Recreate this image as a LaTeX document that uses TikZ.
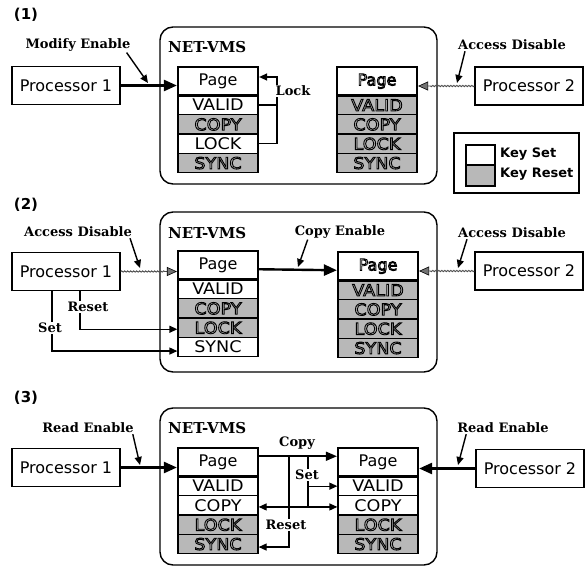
\documentclass[tikz,border=0pt]{standalone}
\usepackage{fontspec}
\setmainfont{DejaVu Sans}
\newfontfamily\lblfam{DejaVu Serif}
\newfontfamily\rowfam{DejaVu Sans}[FakeStretch=1.1]
\usetikzlibrary{arrows.meta,decorations.pathmorphing}

\newcommand\outl[1]{\special{pdf:literal direct 1 Tr 0.9 w}#1\special{pdf:literal direct 0 Tr}}
\newcommand\txts[1]{#1}
\newcommand\txtr[1]{\outl{#1}}

\tikzset{
 proc/.style={draw,line width=1.4pt,fill=white,minimum width=108pt,minimum height=38pt,inner sep=0pt,font=\fontsize{16}{18}\selectfont},
 vms/.style={draw,line width=1.4pt,rounded corners=13pt,minimum width=277pt,inner sep=0pt},
 vmstitle/.style={font=\lblfam\bfseries\fontsize{15}{17}\selectfont,inner sep=0pt,anchor=west},
 lbl/.style={font=\lblfam\bfseries\fontsize{13}{15}\selectfont,inner sep=1pt},
 lblw/.style={lbl,fill=white},
 num/.style={font=\bfseries\fontsize{15}{17}\selectfont,inner sep=0pt},
 keylbl/.style={font=\bfseries\fontsize{13}{15}\selectfont,inner sep=0pt,anchor=west},
 row/.style={draw,line width=1.3pt,minimum width=80pt,minimum height=19.3pt,inner sep=0pt,font=\rowfam\fontsize{16}{18}\selectfont},
 rows/.style={row,fill=white},
 rowr/.style={row,fill=black!28},
 pagerow/.style={draw,line width=2.2pt,fill=white,minimum width=80pt,minimum height=28.5pt,inner sep=0pt,font=\fontsize{16}{18}\selectfont},
 mainarr/.style={line width=2.4pt,-{Triangle[length=13pt,width=11pt]}},
 copyarr/.style={line width=1.7pt,-{Triangle[length=11pt,width=9pt]}},
 blocked/.style={draw=black!70,line width=0.9pt,decorate,decoration={snake,amplitude=0.7pt,segment length=3pt,post length=11pt},-{Triangle[length=10pt,width=9pt,fill=black!55,color=black,line width=0.6pt]}},
 ptr/.style={line width=1.4pt,-{Triangle[length=8pt,width=7pt]}},
 conn/.style={line width=1.3pt,-{Triangle[length=8pt,width=7pt]}},
 biconn/.style={line width=1.3pt,{Triangle[length=8pt,width=7pt]}-{Triangle[length=8pt,width=7pt]}},
 plain/.style={line width=1.3pt},
}

\newcommand\pgstack[8]{%
 \node[row#4] (#1v) at (#2,{#3+38.15}) {\csname txt#4\endcsname{VALID}};
 \node[row#5] (#1c) at (#2,{#3+57.45}) {\csname txt#5\endcsname{COPY}};
 \node[row#6] (#1k) at (#2,{#3+76.75}) {\csname txt#6\endcsname{LOCK}};
 \node[row#7] (#1s) at (#2,{#3+96.05}) {\csname txt#7\endcsname{SYNC}};
 \node[pagerow] (#1p) at (#2,{#3+14.25}) {\csname txt#8\endcsname{Page}};
}

\begin{document}
\begin{tikzpicture}[x=1pt,y=-1pt]
\useasboundingbox (0,0) rectangle (588,567);

%% ---------------- Panel 1
\node[num] (n1) at (26,15) {(1)};
\node[vms,minimum height=157pt] (V1) at (298.5,105.5) {};
\node[vmstitle] (T1) at (168,47) {NET-VMS};
\node[proc] (P11) at (66,85.5) {Processor 1};
\node[proc] (P21) at (529,86) {Processor 2};
\pgstack{L1}{218}{67}{s}{r}{s}{r}{s}
\pgstack{R1}{377}{67}{r}{r}{r}{r}{r}
\draw[mainarr] (P11.east) -- (P11.east -| L1p.west);
\draw[blocked] (P21.west) -- (P21.west -| R1p.east);
\node[lbl] (ME) at (78,45) {Modify Enable};
\coordinate (me) at (148,83);
\draw[ptr] ([xshift=-5pt]ME.south east) -- (me);
\node[lbl] (AD1) at (512,45) {Access Disable};
\coordinate (ad1) at (457,83);
\draw[ptr] ([xshift=8pt]AD1.south west) -- (ad1);
\coordinate (lk) at (277,77);
\draw[plain] (L1v.east) -- (L1v.east -| lk);
\draw[conn] (L1k.east) -| (lk) -- (lk -| L1p.east);
\node[lblw] (LK) at (293,91) {Lock};
% legend
\node[draw,line width=1.4pt,minimum width=125pt,minimum height=60pt,inner sep=0pt] (leg) at (516.5,163) {};
\node[draw,line width=1.3pt,fill=white,minimum width=29pt,minimum height=20pt,inner sep=0pt] (ks) at (480.5,155) {};
\node[draw,line width=1.3pt,fill=black!28,minimum width=29pt,minimum height=21pt,inner sep=0pt] (kr) at (480.5,175.5) {};
\node[keylbl] (ksl) at (500,154) {Key Set};
\node[keylbl] (krl) at (500,174) {Key Reset};

%% ---------------- Panel 2
\node[num] (n2) at (26,205) {(2)};
\node[vms,minimum height=160pt] (V2) at (298.5,292) {};
\node[vmstitle] (T2) at (168,233) {NET-VMS};
\node[proc] (P12) at (66,271.5) {Processor 1};
\node[proc] (P22) at (529,271) {Processor 2};
\pgstack{L2}{218}{251}{s}{r}{r}{s}{s}
\pgstack{R2}{378}{252}{r}{r}{r}{r}{r}
\draw[blocked] (P12.east) -- (P12.east -| L2p.west);
\draw[blocked] (P22.west) -- (P22.west -| R2p.east);
\draw[mainarr] ([yshift=-4pt]L2p.east) -- ([yshift=-4pt]R2p.west);
\node[lbl] (AD2) at (78,232) {Access Disable};
\coordinate (ad2) at (140,268);
\draw[ptr] ([xshift=-3pt]AD2.south east) -- (ad2);
\node[lbl] (CE) at (340,232) {Copy Enable};
\coordinate (ce) at (298,267);
\draw[ptr] ([xshift=14pt]CE.south west) -- (ce);
\node[lbl] (AD3) at (512,233) {Access Disable};
\coordinate (ad3) at (458,268);
\draw[ptr] ([xshift=10pt]AD3.south west) -- (ad3);
\draw[conn] ([xshift=14pt]P12.south) |- ([yshift=-1.5pt]L2k.west);
\draw[conn] ([xshift=-14pt]P12.south) |- ([yshift=-4pt]L2s.west);
\node[lblw] (RS2) at (88,307) {Reset};
\node[lblw] (ST2) at (50,328) {Set};

%% ---------------- Panel 3
\node[num] (n3) at (26,398) {(3)};
\node[vms,minimum height=157pt] (V3) at (298.5,486.5) {};
\node[vmstitle] (T3) at (168,428) {NET-VMS};
\node[proc] (P13) at (66,467.5) {Processor 1};
\node[proc] (P23) at (530,468.5) {Processor 2};
\pgstack{L3}{218}{448}{s}{s}{r}{r}{s}
\pgstack{R3}{378}{448}{s}{s}{r}{r}{s}
\draw[mainarr] (P13.east) -- (P13.east -| L3p.west);
\draw[mainarr] (P23.west) -- (P23.west -| R3p.east);
\node[lbl] (RE1) at (88,428) {Read Enable};
\coordinate (re1) at (140,465);
\draw[ptr] ([xshift=-2pt]RE1.south east) -- (re1);
\node[lbl] (RE2) at (503,428) {Read Enable};
\coordinate (re2) at (458,465);
\draw[ptr] ([xshift=10pt]RE2.south west) -- (re2);
\draw[copyarr] ([yshift=6pt]L3p.east) -- ([yshift=6pt]R3p.west);
\coordinate (rs3) at (289,456.25);
\coordinate (st3) at (308,456.25);
\coordinate (cp3) at ([yshift=-1.5pt]R3c.west);
\draw[conn] (rs3) |- ([yshift=-3pt]L3s.east);
\draw[biconn] ([yshift=-1.5pt]L3c.east) -- (cp3);
\draw[plain] (st3) -- (st3 |- cp3);
\draw[conn] (st3 |- R3v.west) -- (R3v.west);
\node[lbl] (CP3) at (297,443) {Copy};
\node[lblw] (ST3) at (307,475) {Set};
\node[lblw] (RS3) at (286,525) {Reset};
\end{tikzpicture}
\end{document}
